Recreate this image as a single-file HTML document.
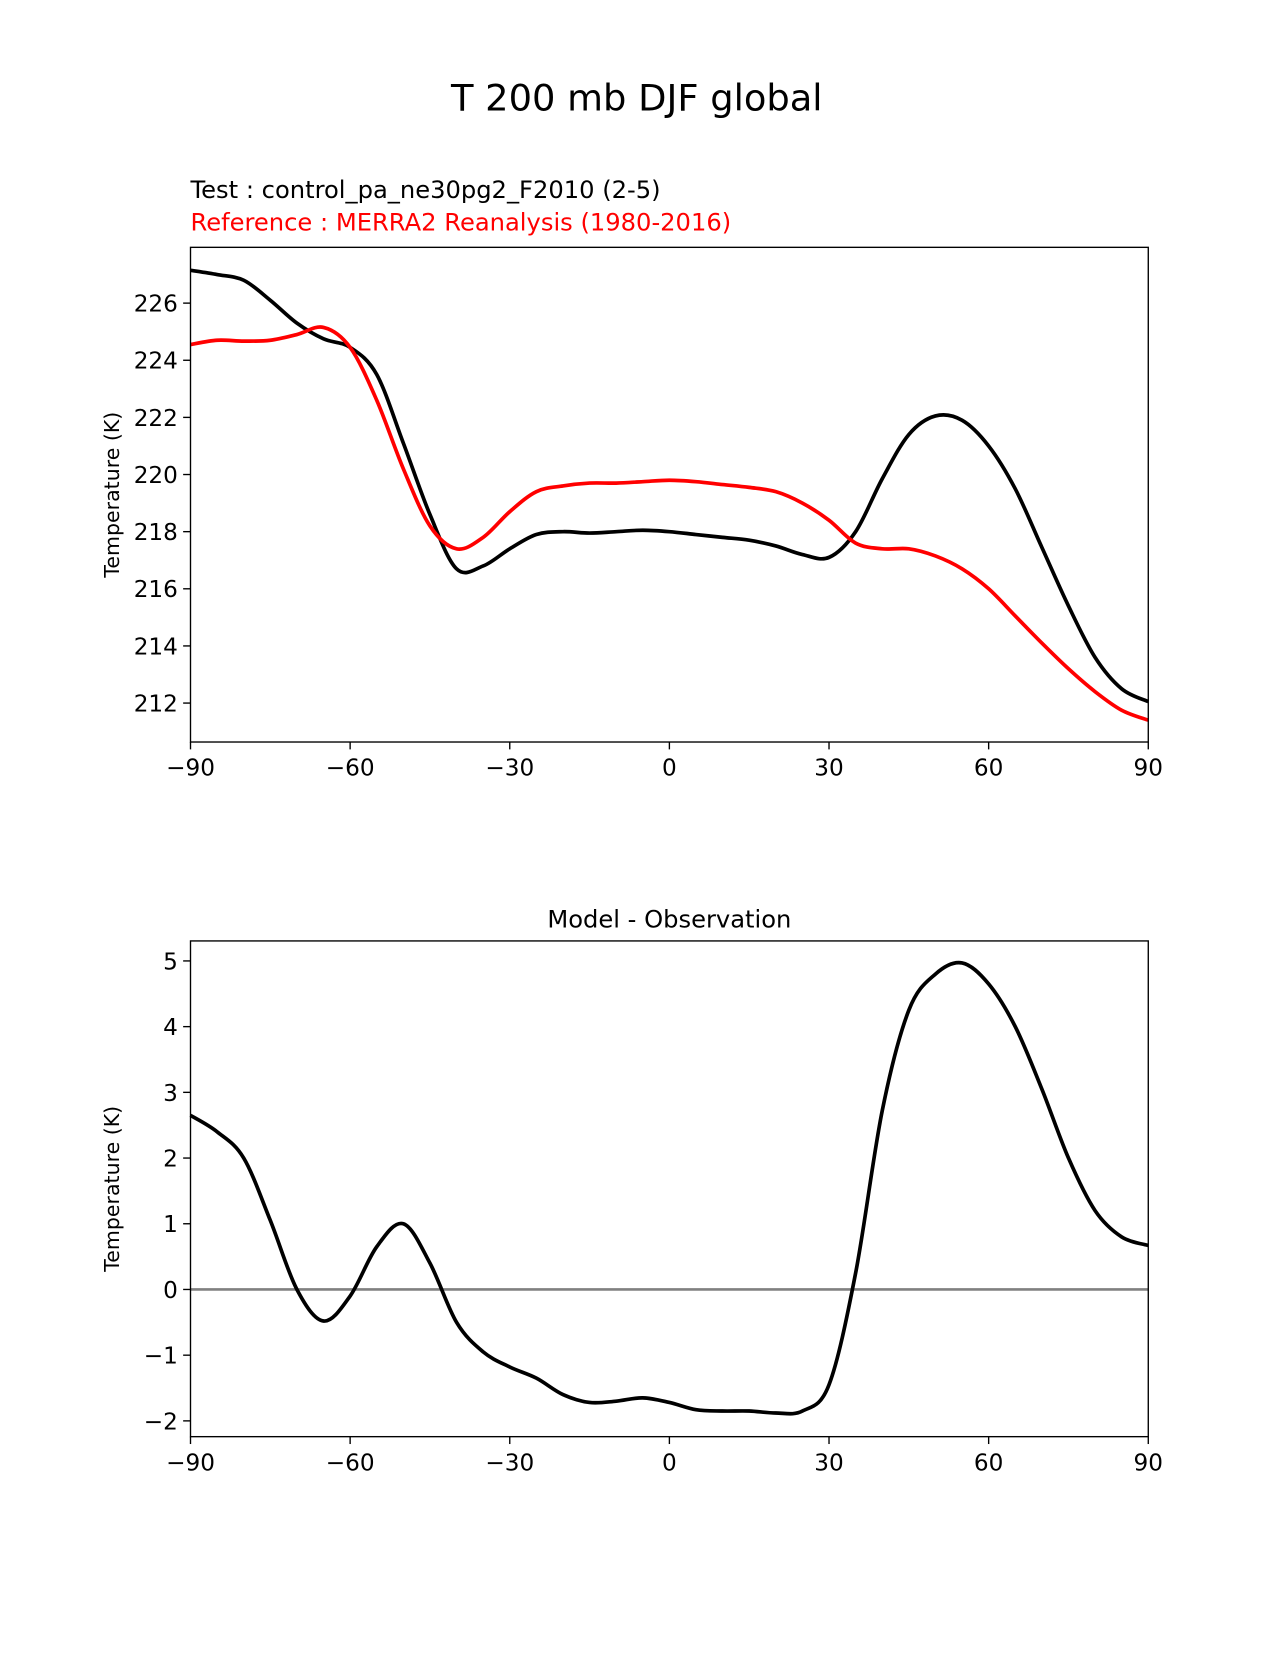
<!DOCTYPE html>
<html><head><meta charset="utf-8">
<style>
html,body{margin:0;padding:0;background:#fff;}
svg text{font-family:"DejaVu Sans","Liberation Sans",sans-serif;}
</style></head>
<body>
<svg id="fig" width="1275" height="1650" viewBox="0 0 1275 1650" xmlns="http://www.w3.org/2000/svg">
<rect width="1275" height="1650" fill="#fff"/>
<g transform="scale(1.0525)">
<text x="605" y="105" font-size="35" text-anchor="middle">T 200 mb DJF global</text>
<text x="181" y="188" font-size="23">Test : control_pa_ne30pg2_F2010 (2-5)</text>
<text x="181" y="219" font-size="23" fill="#ff0000">Reference : MERRA2 Reanalysis (1980-2016)</text>
<text x="636" y="881" font-size="23" text-anchor="middle">Model - Observation</text>
<g id="top"></g>
<g id="bot"></g>
</g>
</svg>
<script>
const lats = [-90,-85,-80,-75,-70,-65,-60,-55,-50,-45,-40,-35,-30,-25,-20,-15,-10,-5,0,5,10,15,20,25,30,35,40,45,50,55,60,65,70,75,80,85,90];
const testT = [227.15,227.0,226.8,226.1,225.3,224.75,224.45,223.5,221.1,218.6,216.7,216.8,217.4,217.9,218.0,217.95,218.0,218.05,218.0,217.9,217.8,217.7,217.5,217.2,217.1,218.0,219.85,221.4,222.05,221.9,221.0,219.5,217.45,215.4,213.6,212.5,212.05];
const refT = [224.55,224.7,224.67,224.7,224.9,225.15,224.45,222.6,220.2,218.2,217.4,217.8,218.7,219.4,219.6,219.7,219.7,219.75,219.8,219.75,219.65,219.55,219.4,219.0,218.4,217.6,217.4,217.4,217.15,216.7,216.0,215.05,214.1,213.2,212.4,211.75,211.4];
const diffT = [2.65,2.4,2.0,1.05,0.0,-0.48,-0.1,0.65,1.0,0.4,-0.5,-0.95,-1.18,-1.35,-1.6,-1.72,-1.7,-1.65,-1.72,-1.83,-1.85,-1.85,-1.88,-1.85,-1.45,0.25,2.72,4.25,4.8,4.97,4.65,4.0,3.05,2.0,1.2,0.8,0.67];
const xTicks = [-90,-60,-30,0,30,60,90];
const xTickLabels = ["\u221290","\u221260","\u221230","0","30","60","90"];
const topTicks = [212,214,216,218,220,222,224,226];
const botTicks = [-2,-1,0,1,2,3,4,5];
const botTickLabels = ["\u22122","\u22121","0","1","2","3","4","5"];

const NS='http://www.w3.org/2000/svg';
function mk(tag,attrs,parent){const e=document.createElementNS(NS,tag);for(const k in attrs)e.setAttribute(k,attrs[k]);parent.appendChild(e);return e;}
const X0=181,X1=1091;
const xs=v=>X0+(v+90)/180*(X1-X0);
function smooth(pts){let d='M'+pts[0][0]+','+pts[0][1];for(let i=0;i<pts.length-1;i++){const p0=pts[Math.max(0,i-1)],p1=pts[i],p2=pts[i+1],p3=pts[Math.min(pts.length-1,i+2)];
const c1x=p1[0]+(p2[0]-p0[0])/6,c1y=p1[1]+(p2[1]-p0[1])/6,c2x=p2[0]-(p3[0]-p1[0])/6,c2y=p2[1]-(p3[1]-p1[1])/6;d+=' C'+c1x+','+c1y+' '+c2x+','+c2y+' '+p2[0]+','+p2[1];}return d;}

function panel(g,Y0,Y1,ys,yt,ytl){
  xTicks.forEach((t,i)=>{const x=xs(t);
    const l=mk('line',{x1:x,x2:x,y1:Y1,y2:Y1+7,stroke:'#000','stroke-width':1.3},g);
    
    
    const tx=mk('text',{x:x,y:Y1+32,'font-size':22,'text-anchor':'middle'},g);tx.textContent=xTickLabels[i];
    
    
  });
  yt.forEach((t,i)=>{const y=ys(t);
    const l=mk('line',{x1:X0-7,x2:X0,y1:y,y2:y,stroke:'#000','stroke-width':1.3},g);
    
    
    const tx=mk('text',{x:X0-12,y:y+8,'font-size':22,'text-anchor':'end'},g);tx.textContent=ytl[i];
    
    
  });
  const yl=mk('text',{x:0,y:0,'font-size':19.5,'text-anchor':'middle',transform:'translate('+(X0-68)+','+((Y0+Y1)/2)+') rotate(-90)'},g);
  yl.textContent='Temperature (K)';
  
  
}
function line(g,vals,ys,color,name){
  const p=mk('path',{d:smooth(vals.map((v,i)=>[xs(lats[i]),ys(v)])),fill:'none',stroke:color,'stroke-width':3.5,'stroke-linejoin':'round'},g);
  
  
}
function frame(g,Y0,Y1){
  const r=mk('rect',{x:X0,y:Y0,width:X1-X0,height:Y1-Y0,fill:'none',stroke:'#000','stroke-width':1.3},g);
  
  
}
const gt=document.getElementById('top');
const ysT=v=>288+(226-v)*(380/14);
panel(gt,235,705,ysT,topTicks,topTicks.map(String));
line(gt,testT,ysT,'#000','test-line');
line(gt,refT,ysT,'#ff0000','reference-line');
frame(gt,235,705);
const gb=document.getElementById('bot');
const ysB=v=>913+(5-v)*(437/7);
panel(gb,894,1365,ysB,botTicks,botTickLabels);
const z=mk('line',{x1:X0,x2:X1,y1:ysB(0),y2:ysB(0),stroke:'#808080','stroke-width':2.5},gb);


line(gb,diffT,ysB,'#000','difference-line');
frame(gb,894,1365);
</script>
</body></html>
